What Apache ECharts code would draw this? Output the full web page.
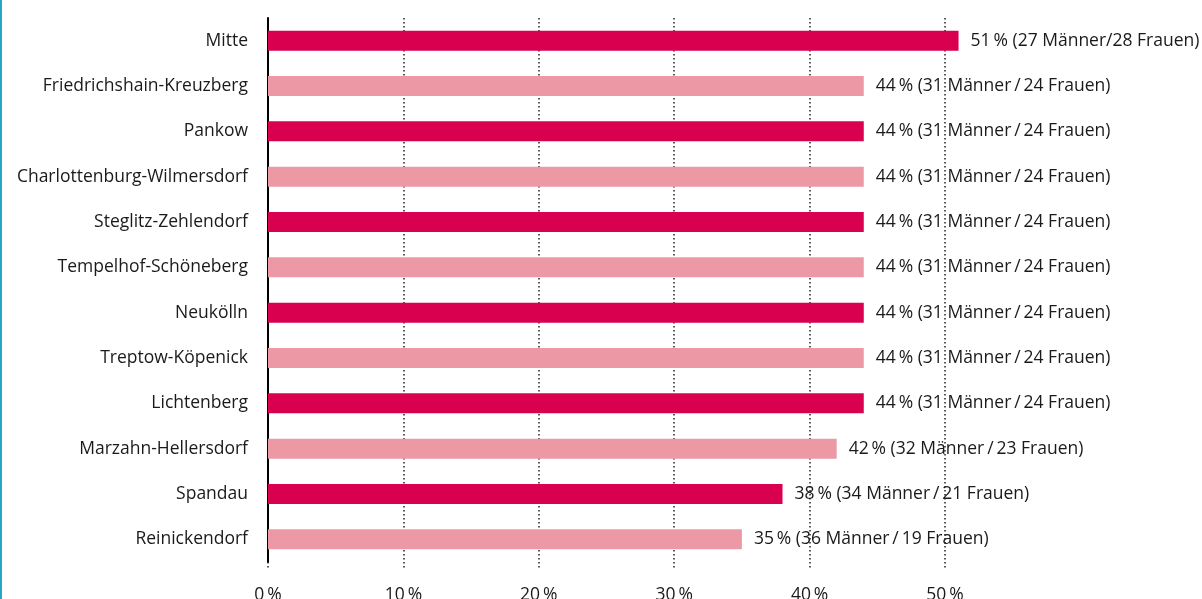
<!DOCTYPE html>
<html>
<head>
<meta charset="utf-8">
<script src="https://cdn.jsdelivr.net/npm/echarts@6/dist/echarts.min.js"></script>
<style>
  html, body { margin: 0; padding: 0; background: #fff; }
  #chart { width: 1202px; height: 599px; }
</style>
</head>
<body>
<div id="chart"></div>
<script>
// Bezirke, von oben nach unten
const districts = [
  "Mitte", "Friedrichshain-Kreuzberg", "Pankow", "Charlottenburg-Wilmersdorf",
  "Steglitz-Zehlendorf", "Tempelhof-Schöneberg", "Neukölln", "Treptow-Köpenick",
  "Lichtenberg", "Marzahn-Hellersdorf", "Spandau", "Reinickendorf"
];
const shares = [51, 44, 44, 44, 44, 44, 44, 44, 44, 42, 38, 35];
const men = [27, 31, 31, 31, 31, 31, 31, 31, 31, 32, 34, 36];
const women = [28, 24, 24, 24, 24, 24, 24, 24, 24, 23, 21, 19];
const xTicks = [0, 10, 20, 30, 40, 50];

const chart = echarts.init(document.getElementById("chart"));
const font = "'Open Sans', 'Noto Sans', sans-serif";
const fs = 17.5;

chart.setOption({
  animation: false,
  grid: { left: 268, top: 18, width: 677, height: 544, outerBoundsMode: "none" },
  xAxis: {
    type: "value",
    min: xTicks[0],
    max: xTicks[xTicks.length - 1],
    interval: 10,
    axisLine: { show: false },
    axisTick: {
      show: true, length: 8,
      lineStyle: { color: "#222", width: 1.5, type: [1.5, 2.5] }
    },
    axisLabel: {
      margin: 24,
      color: "#1a1a1a",
      fontFamily: font,
      fontSize: fs,
      formatter: v => v + "\u2009%"
    },
    splitLine: {
      show: true,
      lineStyle: { color: "#222", width: 1.5, type: [1.5, 2.5] }
    }
  },
  yAxis: {
    type: "category",
    inverse: true,
    data: districts,
    axisLine: { show: true, lineStyle: { color: "#000", width: 2 } },
    axisTick: { show: false },
    axisLabel: {
      margin: 20,
      color: "#1a1a1a",
      fontFamily: font,
      fontSize: fs
    }
  },
  series: [{
    type: "bar",
    data: shares,
    barWidth: 20,
    clip: false,
    z: 3,
    itemStyle: {
      color: p => (p.dataIndex % 2 === 0 ? "#d9004f" : "#ec99a5")
    },
    label: {
      show: true,
      position: "right",
      distance: 12,
      color: "#1a1a1a",
      fontFamily: font,
      fontSize: fs,
      formatter: p => {
        // erste Zeile im Original ohne Abstand um den Schrägstrich
        const sep = p.dataIndex === 0 ? "/" : "\u2009/\u2009";
        return p.value + "\u2009% (" + men[p.dataIndex] + " Männer" + sep +
          women[p.dataIndex] + " Frauen)";
      }
    }
  }],
  graphic: [{
    type: "rect",
    left: 0, top: 0,
    shape: { width: 2, height: 599 },
    style: { fill: "#29a6c2" }
  }]
});
</script>
</body>
</html>
